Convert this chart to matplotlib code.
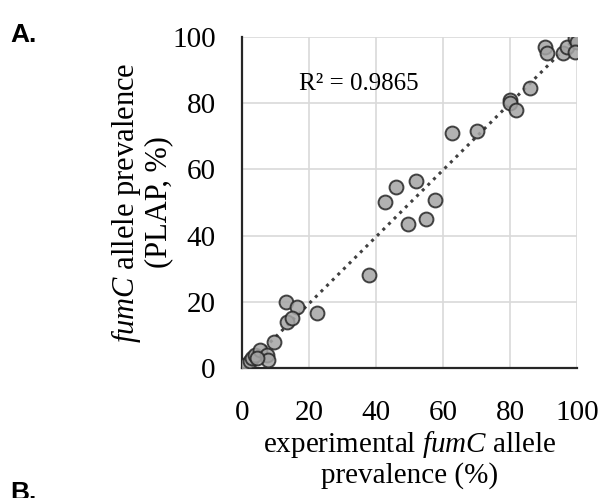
import numpy as np
import matplotlib.pyplot as plt

# experimental vs PLAP fumC allele prevalence (%)
exp_prev = [1, 2.4, 3, 4, 5.4, 7.5, 7.8, 9.5, 4.5, 13, 16.4, 13.4, 15, 22.4,
            38, 42.7, 46, 49.5, 52, 55, 57.6, 62.7, 70, 80, 80, 81.8, 86,
            90.4, 91, 95.8, 97, 99.4, 100, 99.4]
plap_prev = [1, 2, 3, 4, 5.4, 4, 2.4, 8, 3, 20, 18.5, 14, 15, 16.6,
             28, 50, 54.7, 43.5, 56.5, 45, 50.7, 71, 71.6, 81, 80, 78, 84.6,
             97, 95, 95, 97, 99.7, 98.5, 95.5]
r2_text = "R² = 0.9865"
ticks = [0, 20, 40, 60, 80, 100]

plt.rcParams['font.family'] = ['Liberation Serif', 'DejaVu Serif']
plt.rcParams['mathtext.fontset'] = 'custom'
plt.rcParams['mathtext.rm'] = 'Liberation Serif'
plt.rcParams['mathtext.it'] = 'Liberation Serif:italic'

fig = plt.figure(figsize=(6.05, 4.98), dpi=100)
ax = fig.add_axes([0.4, 0.261, 0.554, 0.665])

x = np.array(exp_prev)
y = np.array(plap_prev)
slope, icpt = np.polyfit(x, y, 1)
xs = np.array([0, 100])

ax.grid(True, color='#d9d9d9', linewidth=1.2, zorder=0)
ax.plot(xs, slope * xs + icpt, linestyle=(0, (1, 1.6)), color='#404040',
        linewidth=2.2, zorder=2)
ax.scatter(x, y, s=100, facecolor='#a5a5a5', edgecolor='#262626',
           linewidth=1.4, alpha=0.85, zorder=3)

ax.set_xlim(0, 100)
ax.set_ylim(0, 100)
ax.set_xticks(ticks)
ax.set_yticks(ticks)
ax.tick_params(axis='y', length=0, labelsize=21, pad=19)
ax.tick_params(axis='x', length=0, labelsize=21, pad=23)
for s in ['top', 'right']:
    ax.spines[s].set_visible(False)
for s in ['left', 'bottom']:
    ax.spines[s].set_color('#262626')
    ax.spines[s].set_linewidth(1.6)

ax.text(17, 84, r2_text, fontsize=18)

ax.set_xlabel("experimental $\\it{fumC}$ allele\nprevalence (%)", fontsize=21,
              linespacing=1.1, labelpad=2)
ax.set_ylabel("$\\it{fumC}$ allele prevalence\n(PLAP, %)", fontsize=22,
              linespacing=1.05, labelpad=-1)

fig.text(0.017, 0.916, "A.", fontsize=19, fontweight='bold',
         family='Liberation Sans')
fig.text(0.017, -0.004, "B.", fontsize=19, fontweight='bold',
         family='Liberation Sans')

fig.savefig('out.png', dpi=100)
